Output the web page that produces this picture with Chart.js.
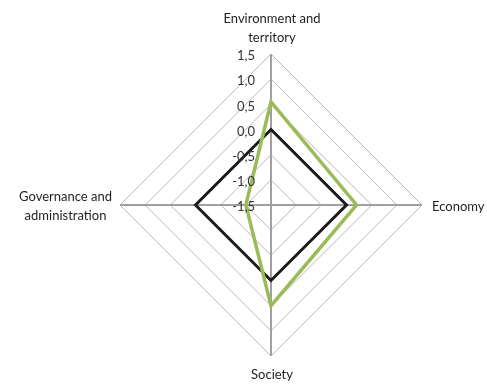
<!DOCTYPE html>
<html>
<head>
<meta charset="utf-8">
<script src="https://cdn.jsdelivr.net/npm/chart.js@4/dist/chart.umd.min.js"></script>
<style>
  html, body { margin: 0; padding: 0; background: #ffffff; }
  #wrap { width: 487px; height: 385px; position: relative; }
</style>
</head>
<body>
<div id="wrap"><canvas id="c" width="487" height="385"></canvas></div>
<script>
// ---- data ----
const categories = [["Environment and", "territory"], "Economy", "Society", ["Governance and", "administration"]];
const seriesGreen = [0.55, 0.2, 0.5, -1.0];
const seriesBlack = [0.0, 0.0, 0.0, 0.0];
const tickValues = [-1.5, -1.0, -0.5, 0.0, 0.5, 1.0, 1.5];
const tickLabels = ["-1,5", "-1,0", "-0,5", "0,0", "0,5", "1,0", "1,5"];

const FONT = "Lato, 'Open Sans', sans-serif";

const labelPlugin = {
  id: 'customLabels',
  afterDraw(chart) {
    const s = chart.scales.r;
    const ctx = chart.ctx;
    ctx.save();
    ctx.font = '13px ' + FONT;
    ctx.textBaseline = 'middle';
    // tick labels (left of vertical axis)
    ctx.fillStyle = '#333333';
    ctx.textAlign = 'right';
    s.ticks.forEach((t) => {
      const idx = tickValues.indexOf(t.value);
      const txt = idx >= 0 ? tickLabels[idx] : String(t.value);
      const y = s.yCenter - s.getDistanceFromCenterForValue(t.value) + 2;
      ctx.fillText(txt, s.xCenter - 16, y);
    });
    // point labels
    ctx.fillStyle = '#1f1f1f';
    ctx.textAlign = 'center';
    const lh = 18.5;
    s._pointLabels.forEach((lab, i) => {
      const lines = Array.isArray(lab) ? lab : [lab];
      const n = lines.length;
      const p = s.getPointPosition(i, s.drawingArea);
      const ang = s.getIndexAngle(i) - Math.PI / 2;
      const cs = Math.cos(ang), sn = Math.sin(ang);
      const maxW = Math.max(...lines.map(l => ctx.measureText(l).width));
      let cx, cy;
      if (Math.abs(sn) > 0.5) {
        cx = p.x + 1;
        if (sn < 0) cy = p.y - 7 - n * lh / 2;
        else cy = p.y + 10 + n * lh / 2;
      } else {
        cy = p.y + 1.5;
        if (cs < 0) cx = p.x - 8 - maxW / 2;
        else cx = p.x + 10 + maxW / 2;
      }
      lines.forEach((l, k) => {
        ctx.fillText(l, cx, cy - (n * lh) / 2 + lh * (k + 0.5));
      });
    });
    ctx.restore();
  }
};

new Chart(document.getElementById('c'), {
  type: 'radar',
  data: {
    labels: categories,
    datasets: [
      { label: 'Series 2', data: seriesGreen, borderColor: '#9bbb59', borderWidth: 3.5, fill: false, pointRadius: 0, tension: 0 },
      { label: 'Series 1', data: seriesBlack, borderColor: '#1a1a1a', borderWidth: 3, fill: false, pointRadius: 0, tension: 0 }
    ]
  },
  options: {
    responsive: false,
    animation: false,
    devicePixelRatio: 1,
    layout: { padding: { left: 120, right: 65, top: 54, bottom: 29 } },
    plugins: { legend: { display: false }, tooltip: { enabled: false } },
    scales: {
      r: {
        min: -1.5,
        max: 1.5,
        ticks: { stepSize: 0.5, display: false },
        grid: { circular: false, color: '#b8b8b8', lineWidth: 1 },
        angleLines: { display: true, color: '#a0a0a0', lineWidth: 2 },
        pointLabels: { display: false }
      }
    }
  },
  plugins: [labelPlugin]
});
</script>
</body>
</html>
